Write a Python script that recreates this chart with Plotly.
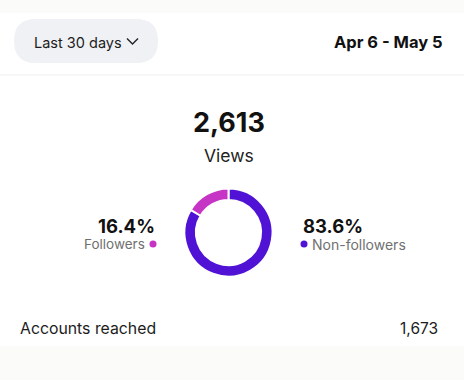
import plotly.graph_objects as go

labels = ["Non-followers", "Followers"]
shares = [83.6, 16.4]
colors = ["#5013D6", "#C534C4"]
views = "2,613"
accounts_reached = "1,673"
period = "Last 30 days"
date_range = "Apr 6 - May 5"

W, H = 464, 380
FONT = "Inter, Roboto, Liberation Sans, sans-serif"

fig = go.Figure()

# donut
cx, cy, r = 228.5, 232.5, 44
fig.add_trace(go.Pie(
    labels=labels, values=shares, sort=False, direction="clockwise", rotation=0,
    hole=0.74, marker=dict(colors=colors, line=dict(color="white", width=2)),
    textinfo="none", hoverinfo="label+percent", showlegend=False,
    domain=dict(x=[(cx - r) / W, (cx + r) / W], y=[(H - cy - r) / H, (H - cy + r) / H]),
))

shapes = [
    dict(type="rect", x0=0, x1=W, y0=0, y1=13, fillcolor="#FBFBFA", line_width=0, layer="below"),
    dict(type="line", x0=0, x1=W, y0=75, y1=75, line=dict(color="#F4F4F4", width=1.5)),
    dict(type="rect", x0=0, x1=W, y0=346, y1=H, fillcolor="#FBFBF9", line_width=0, layer="below"),
    # pill
    dict(type="path", path="M36,19 L136,19 Q158,19 158,41 Q158,63 136,63 L36,63 Q14,63 14,41 Q14,19 36,19 Z",
         fillcolor="#EFF1F4", line_width=0, layer="below"),
    # chevron
    dict(type="path", path="M127,38.5 L132.5,44 L138,38.5", line=dict(color="#222", width=1.4)),
    # legend dots
    dict(type="circle", x0=149.5, x1=156.5, y0=240.5, y1=247.5, fillcolor=colors[1], line_width=0),
    dict(type="circle", x0=300.5, x1=307.5, y0=240.5, y1=247.5, fillcolor=colors[0], line_width=0),
]

def t(x, y, text, size, color="#111", anchor="left", bold=False):
    if bold:
        text = f"<b>{text}</b>"
    return dict(x=x, y=y, xref="x", yref="y", text=text, showarrow=False,
                xanchor=anchor, yanchor="middle", font=dict(size=size, color=color, family=FONT))

annotations = [
    t(32, 42, period, 14.5, "#1c1c1c"),
    t(445, 42, date_range, 16.5, "#111", "right", True),
    t(229, 122, views, 27, "#111", "center", True),
    t(229, 155, "Views", 17.5, "#222", "center"),
    t(157, 226, f"{shares[1]}%", 18.5, "#111", "right", True),
    t(147, 244, labels[1], 13.5, "#707070", "right"),
    t(301, 226, f"{shares[0]}%", 18.5, "#111", "left", True),
    t(310, 244, labels[0], 14, "#707070", "left"),
    t(18, 328, "Accounts reached", 15.8, "#1c1c1c"),
    t(440, 328, accounts_reached, 15.5, "#1c1c1c", "right"),
]

fig.update_layout(
    width=W, height=H, margin=dict(l=0, r=0, t=0, b=0),
    paper_bgcolor="white", plot_bgcolor="rgba(0,0,0,0)",
    xaxis=dict(range=[0, W], visible=False, fixedrange=True),
    yaxis=dict(range=[H, 0], visible=False, fixedrange=True),
    shapes=shapes, annotations=annotations, showlegend=False,
)

fig.write_html("out.html", config={"displayModeBar": False},
               post_script="document.body.style.margin='0';document.body.style.overflow='hidden';")
